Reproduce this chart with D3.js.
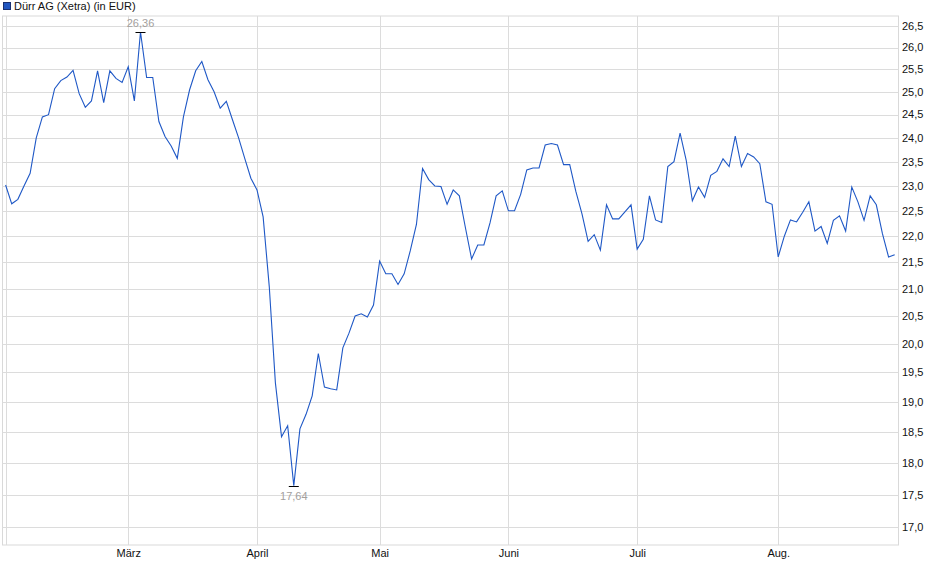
<!DOCTYPE html>
<html><head><meta charset="utf-8">
<script src="https://cdn.jsdelivr.net/npm/d3@7"></script>
<style>
html,body{margin:0;padding:0;background:#fff;}
svg{display:block;font-family:"Liberation Sans",Arial,sans-serif;}
</style></head>
<body><svg id="c" width="940" height="579"></svg>
<script>
// Dürr AG (Xetra) daily closes, 2025 (trading days from 3 Feb)
const startDate = "2025-02-03";
const holidays = ["2025-04-18","2025-04-21","2025-05-01"];
const values = [
23.02,22.64,22.73,23.0,23.26,24.0,24.45,24.5,25.07,25.25,
25.33,25.48,24.96,24.66,24.8,25.47,24.76,25.47,25.3,25.21,
25.56,24.8,26.36,25.32,25.32,24.35,24.03,23.83,23.57,24.45,
25.04,25.47,25.68,25.27,25.0,24.64,24.79,24.39,24.0,23.57,
23.16,22.92,22.38,21.04,19.32,18.42,18.6,17.64,18.55,18.79,
19.1,19.83,19.25,19.22,19.2,19.93,20.19,20.5,20.54,20.48,
20.7,21.52,21.28,21.28,21.08,21.28,21.72,22.23,23.36,23.13,
23.0,22.99,22.63,22.92,22.8,22.16,21.56,21.83,21.83,22.26,
22.8,22.9,22.5,22.5,22.83,23.33,23.37,23.37,23.85,23.88,
23.85,23.44,23.44,22.89,22.44,21.9,22.03,21.73,22.62,22.34,
22.34,22.48,22.62,21.75,21.94,22.8,22.32,22.27,23.4,23.5,
24.1,23.53,22.7,22.98,22.77,23.22,23.3,23.56,23.4,24.04,
23.4,23.67,23.6,23.46,22.68,22.63,21.6,22.0,22.32,22.28,
22.47,22.68,22.1,22.19,21.86,22.31,22.4,22.1,22.98,22.68,
22.31,22.8,22.62,22.05,21.6,21.64];
const monthNames = ["Feb.","März","April","Mai","Juni","Juli","Aug."];
const yTicks = [17.0,17.5,18.0,18.5,19.0,19.5,20.0,20.5,21.0,21.5,22.0,22.5,23.0,23.5,24.0,24.5,25.0,25.5,26.0,26.5];
const legendLabel = "Dürr AG (Xetra) (in EUR)";

// build trading dates
const fmt = d3.utcFormat("%Y-%m-%d");
const dates = [];
let d = new Date(startDate + "T00:00:00Z");
while (dates.length < values.length) {
  const wd = d.getUTCDay();
  if (wd !== 0 && wd !== 6 && !holidays.includes(fmt(d))) dates.push(new Date(d));
  d = new Date(d.getTime() + 86400000);
}
const data = values.map((v,i)=>({i, v, date: dates[i]}));
// first trading day of each month
const monthStarts = data.filter((p,k)=> k===0 || p.date.getUTCMonth() !== data[k-1].date.getUTCMonth());

const W = 940, H = 579;
const frame = {l:2.5, r:898.5, t:16, b:545};
const svg = d3.select("#c");
const x = d3.scaleLinear().domain([0, values.length-1]).range([5.6, 894.7]);
const y = d3.scaleLog().domain([16.737, 26.736]).range([frame.b, frame.t]);

// frame
svg.append("rect").attr("x",frame.l).attr("y",frame.t)
  .attr("width",frame.r-frame.l).attr("height",frame.b-frame.t)
  .attr("fill","#fff").attr("stroke","#d9d9d9").attr("stroke-width",1);

// horizontal grid
svg.append("g").selectAll("line").data(yTicks).join("line")
  .attr("x1",frame.l).attr("x2",frame.r)
  .attr("y1",v=>Math.round(y(v))+0.5).attr("y2",v=>Math.round(y(v))+0.5)
  .attr("stroke","#dcdcdc").attr("stroke-width",1);

// vertical grid at month starts
svg.append("g").selectAll("line").data(monthStarts).join("line")
  .attr("x1",p=>Math.round(x(p.i))+0.5).attr("x2",p=>Math.round(x(p.i))+0.5)
  .attr("y1",frame.t).attr("y2",frame.b)
  .attr("stroke","#dcdcdc").attr("stroke-width",1);

// right axis labels
svg.append("g").selectAll("text").data(yTicks).join("text")
  .attr("x",frame.r+3.5).attr("y",v=>y(v)).attr("dy","0.35em")
  .attr("font-size","11px").attr("fill","#111")
  .text(v=>d3.format(".1f")(v).replace(".",","));

// month labels (first month cut off at the left edge)
svg.append("g").selectAll("text").data(monthStarts.slice(1)).join("text")
  .attr("x",p=>x(p.i)+0.5).attr("y",553).attr("dy","0.35em")
  .attr("text-anchor","middle").attr("font-size","11px").attr("fill","#111")
  .text(p=>monthNames[p.date.getUTCMonth()-1]);

// line
svg.append("path").datum(data)
  .attr("d", d3.line().x(p=>x(p.i)).y(p=>y(p.v)))
  .attr("fill","none").attr("stroke","#1f58c6").attr("stroke-width",1.1)
  .attr("stroke-linejoin","miter");

// max / min markers
const maxP = data.reduce((a,b)=>b.v>a.v?b:a);
const minP = data.reduce((a,b)=>b.v<a.v?b:a);
const lab = d3.format(".2f");
[[maxP,-1],[minP,1]].forEach(([p,dir])=>{
  const px = x(p.i), py = Math.round(y(p.v))+0.5;
  svg.append("line").attr("x1",px-5).attr("x2",px+5).attr("y1",py).attr("y2",py)
    .attr("stroke","#000").attr("stroke-width",1);
  svg.append("text").attr("x",px).attr("y",py + dir*(dir<0?9:10)).attr("dy","0.35em")
    .attr("text-anchor","middle").attr("font-size","11px").attr("fill","#a3a09d")
    .text(lab(p.v).replace(".",","));
});

// legend
svg.append("rect").attr("x",3.5).attr("y",2.5).attr("width",7).attr("height",7)
  .attr("fill","#2156c0").attr("stroke","#1a2f6e").attr("stroke-width",1);
svg.append("text").attr("x",14).attr("y",6).attr("dy","0.35em")
  .attr("font-size","11px").attr("fill","#111").text(legendLabel);
</script>
</body></html>
